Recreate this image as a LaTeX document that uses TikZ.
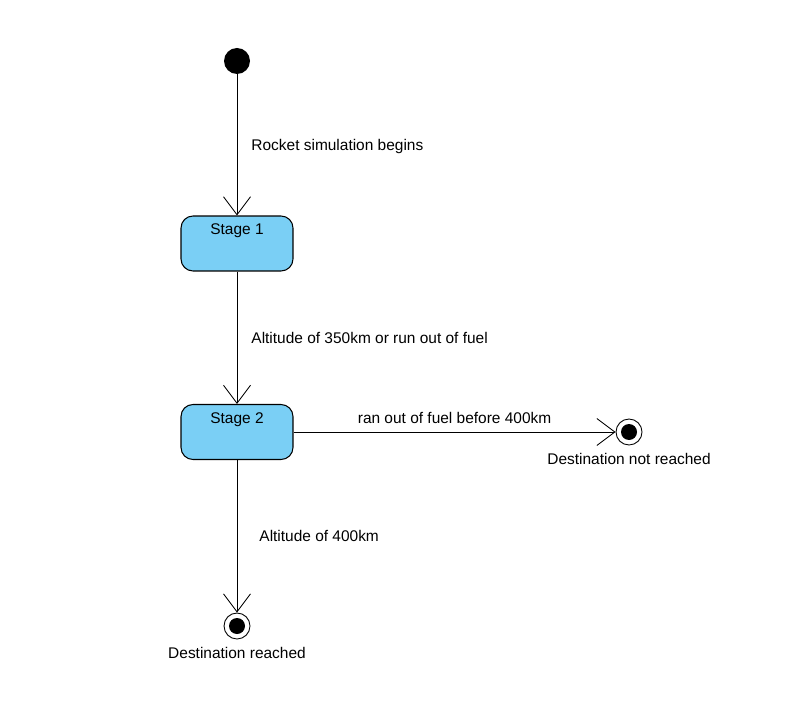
\documentclass[tikz,border=0pt]{standalone}
\usepackage{fontspec}
\setmainfont{Liberation Sans}
\usetikzlibrary{arrows.meta}

\definecolor{stageblue}{RGB}{122,207,245}

\tikzset{
  stage/.style={draw, fill=stageblue, line width=0.6pt, rounded corners=0.24cm,
    minimum width=2.24cm, minimum height=1.1cm,
    label={[anchor=north, inner sep=0pt, yshift=-0.16cm]north:#1}},
  startdot/.style={circle, fill=black, minimum size=0.52cm, inner sep=0pt},
  enddot/.style={circle, draw, fill=white, line width=0.5pt, minimum size=0.52cm, inner sep=0pt,
    path picture={\fill[black] (path picture bounding box.center) circle (0.16cm);},
    label={[inner sep=0pt, label distance=0.16cm]below:#1}},
  trans/.style={-{Straight Barb[length=0.24cm, width=0.36cm, scale=1.5]}, line width=0.5pt},
  lbl/.style={inner sep=0pt}
}

\begin{document}
\begin{tikzpicture}[x=0.02cm, y=-0.02cm, font=\fontsize{8.8}{10.5}\selectfont]
\useasboundingbox (0,0) rectangle (800,705);

% states
\node[startdot] (start) at (237,61) {};
\node[stage=Stage 1] (s1) at (237,243.5) {};
\node[stage=Stage 2] (s2) at (237,432) {};
\node[enddot=Destination not reached] (notreached) at (629,432) {};
\node[enddot=Destination reached] (reached) at (237,626) {};

% transitions
\draw[trans] (start) -- node[lbl, right=0.28cm, yshift=-0.03cm] {Rocket simulation begins} (s1);
\draw[trans] (s1) -- node[lbl, right=0.28cm] {Altitude of 350km or run out of fuel} (s2);
\draw[trans] (s2) -- node[lbl, above=0.16cm] {ran out of fuel before 400km} (notreached);
\draw[trans] (s2) -- node[lbl, right=0.44cm] {Altitude of 400km} (reached);
\end{tikzpicture}
\end{document}
